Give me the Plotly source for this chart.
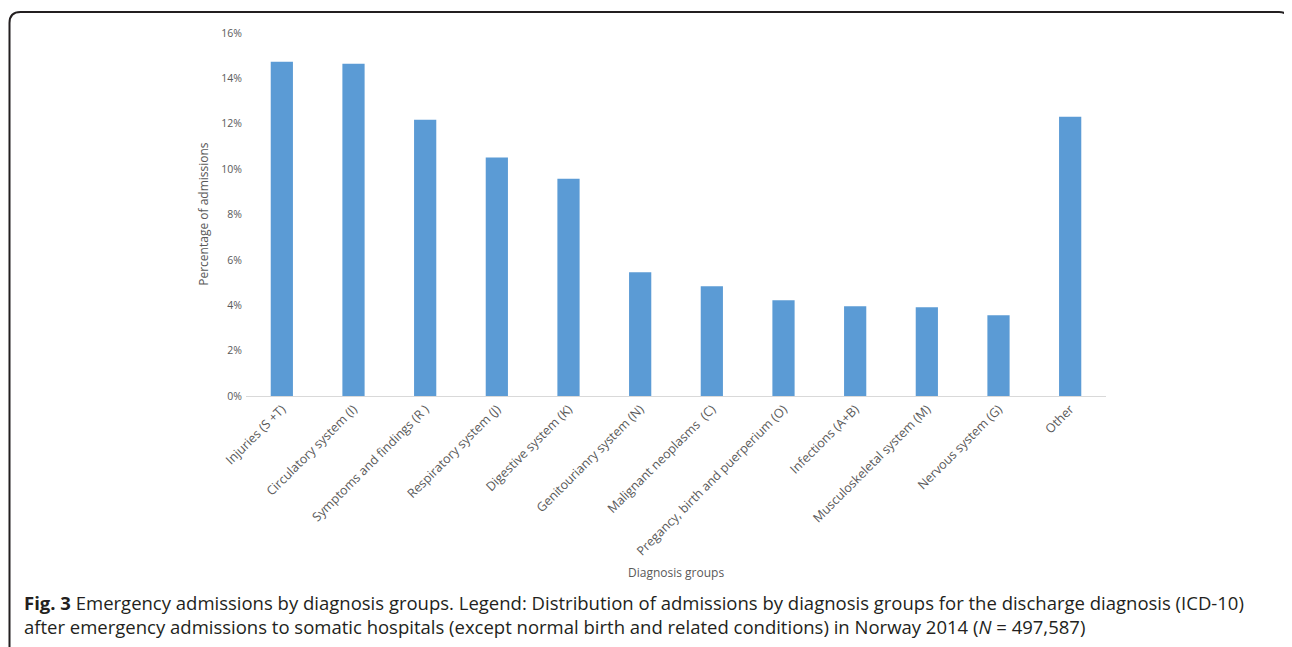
import plotly.graph_objects as go

categories = [
    "Injuries (S +T)", "Circulatory system (I)", "Symptoms and findings (R )",
    "Respiratory system (J)", "Digestive system (K)", "Genitourianry system (N)",
    "Malignant neoplasms  (C)", "Pregancy, birth and puerperium (O)",
    "Infections (A+B)", "Musculoskeletal system (M)", "Nervous system (G)", "Other",
]
values = [0.1473, 0.1464, 0.1218, 0.1051, 0.0958, 0.0545, 0.0484, 0.0422,
          0.0396, 0.0391, 0.0356, 0.1231]
y_ticks = [0, 0.02, 0.04, 0.06, 0.08, 0.10, 0.12, 0.14, 0.16]

# page body adds an 8px offset; work in screen coordinates and compensate
OFF = 8
SW, SH = 1292, 647
W, H = SW - OFF, SH - OFF
# plot area in screen pixels
PX0, PX1, PY0, PY1 = 246, 1106, 33, 396.5
L, R, T, B = PX0 - OFF, W - (PX1 - OFF), PY0 - OFF, H - (PY1 - OFF)
pw, ph = W - L - R, H - T - B

def px(x):
    return (x - OFF - L) / pw

def py(y):
    return (H - B - (y - OFF)) / ph

fig = go.Figure(go.Bar(
    x=categories, y=values, marker=dict(color="#5B9BD5", line=dict(width=0)),
    width=0.31,
))

fig.update_layout(
    width=W, height=H,
    margin=dict(l=L, r=R, t=T, b=B, autoexpand=False),
    paper_bgcolor="white", plot_bgcolor="white",
    font=dict(family="Open Sans", color="#595959"),
    showlegend=False,
    xaxis=dict(
        tickangle=-45, tickfont=dict(size=12.5, color="#595959"),
        showline=True, linecolor="#D9D9D9", linewidth=1,
        showgrid=False, ticks="", zeroline=False,
    ),
    yaxis=dict(
        range=[0, 0.16], tickvals=y_ticks, tickformat=".0%",
        tickfont=dict(size=10.5, color="#595959"),
        showgrid=False, zeroline=False, showline=False, ticks="",
        ticklabelstandoff=3,
    ),
)

# axis titles
fig.add_annotation(text="Percentage of admissions", xref="paper", yref="paper",
                   x=px(204), y=py(214), textangle=-90, showarrow=False,
                   font=dict(size=12, color="#595959"), xanchor="center", yanchor="middle")
fig.add_annotation(text="Diagnosis groups", xref="paper", yref="paper",
                   x=px(676), y=py(573), showarrow=False,
                   font=dict(size=12, color="#595959"), xanchor="center", yanchor="middle")

# caption
cap_font = dict(size=18.5, color="#231F20", family="Open Sans")
fig.add_annotation(
    text="<b>Fig. 3</b> Emergency admissions by diagnosis groups. Legend: Distribution of admissions by diagnosis groups for the discharge diagnosis (ICD-10)",
    xref="paper", yref="paper", x=px(22), y=py(603), xanchor="left", yanchor="middle",
    showarrow=False, font=cap_font)
fig.add_annotation(
    text="after emergency admissions to somatic hospitals (except normal birth and related conditions) in Norway 2014 (<i>N</i> = 497,587)",
    xref="paper", yref="paper", x=px(22), y=py(627), xanchor="left", yanchor="middle",
    showarrow=False, font=cap_font)

# rounded frame
x0, x1, y0, y1, r = px(9.5), px(1290), py(12), py(700), 11
rx, ry = r / pw, r / ph
path = (f"M {x0},{y1} L {x0},{y0 - ry} Q {x0},{y0} {x0 + rx},{y0} "
        f"L {x1 - rx},{y0} Q {x1},{y0} {x1},{y0 - ry} L {x1},{y1}")
fig.add_shape(type="path", path=path, xref="paper", yref="paper",
              line=dict(color="#231F20", width=2))

fig.write_html("out.html")
